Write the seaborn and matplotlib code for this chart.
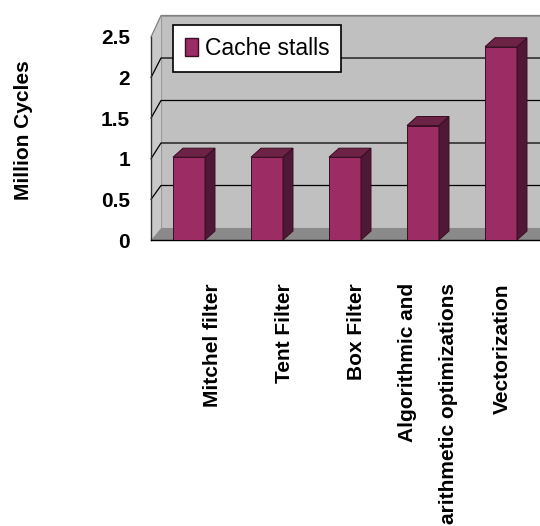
import numpy as np
import matplotlib
matplotlib.use("Agg")
import matplotlib.pyplot as plt
from matplotlib.patches import Polygon, Patch
from matplotlib.lines import Line2D
from matplotlib.transforms import IdentityTransform, ScaledTranslation
import seaborn as sns

# ---- data ----
categories = ["Mitchel filter", "Tent Filter", "Box Filter",
              "Algorithmic and\narithmetic optimizations", "Vectorization"]
cache_stalls = [1.02, 1.02, 1.02, 1.41, 2.38]
series_name = "Cache stalls"
y_ticks = [0, 0.5, 1, 1.5, 2, 2.5]
y_tick_labels = ["0", "0.5", "1", "1.5", "2", "2.5"]
y_title = "Million Cycles"

# ---- style ----
FRONT = "#9b2d64"
SIDE = "#4e1836"
TOP = "#6c2346"
EDGE = "#3a0d24"
WALL = "#c0c0c0"
SIDE_WALL = "#c9c9c9"
FLOOR = "#8a8a8a"

sns.set_style("white")
plt.rcParams["font.family"] = ["Liberation Sans", "DejaVu Sans"]
for key in ("text.color", "axes.labelcolor", "xtick.color", "ytick.color"):
    plt.rcParams[key] = "black"

W, H, DPI = 540, 526, 100
fig = plt.figure(figsize=(W / DPI, H / DPI), dpi=DPI)
fig.patch.set_facecolor("white")

px_per_unit = 81.2           # front-plane scale
ymax = 2.7
xlo, xhi = -0.487, 4.6
slot = 78                    # pixels per category
ax = fig.add_axes([151 / W, 286 / H, (xhi - xlo) * slot / W, ymax * px_per_unit / H])
ax.patch.set_visible(False)

sns.barplot(x=categories, y=cache_stalls, color=FRONT, saturation=1,
            width=0.41, edgecolor=EDGE, linewidth=0.7, ax=ax, zorder=3)
ax.set_xlim(xlo, xhi)
ax.set_ylim(0, ymax)

to_disp = ax.transData.transform
ident = IdentityTransform()

# ---- 3-D box: back wall, side wall, floor ----
WALL_DX, WALL_DY, WALL_K = 10, 12, 85 / 81.2
xf = to_disp((xlo, 0))[0]
yf0 = to_disp((0, 0))[1]
xb = xf + WALL_DX
x_end = W + 30


def front_y(v):
    return to_disp((0, v))[1]


def back_y(v):
    return yf0 + WALL_DY + (front_y(v) - yf0) * WALL_K


vmax = y_ticks[-1]
wall = Polygon([(xb, back_y(0)), (x_end, back_y(0)), (x_end, back_y(vmax)), (xb, back_y(vmax))],
               closed=True, transform=ident, fc=WALL, ec="#9a9a9a", lw=0.8,
               zorder=0.1, clip_on=False)
side_wall = Polygon([(xf, yf0), (xb, back_y(0)), (xb, back_y(vmax)), (xf, front_y(vmax))],
                    closed=True, transform=ident, fc=SIDE_WALL, ec="none",
                    zorder=0.15, clip_on=False)
floor = Polygon([(xf, yf0), (x_end, yf0), (x_end, back_y(0)), (xb, back_y(0))],
                closed=True, transform=ident, fc=FLOOR, ec="none",
                zorder=0.2, clip_on=False)
for p in (wall, side_wall, floor):
    ax.add_patch(p)

for v in y_ticks[1:]:
    col = "#808080" if v == vmax else "black"
    ax.add_line(Line2D([xf, xb, x_end], [front_y(v), back_y(v), back_y(v)],
                       transform=ident, color=col, lw=0.9, zorder=0.5, clip_on=False))

# ---- bar depth faces ----
DX, DY = 10, 9
for bar in list(ax.patches):
    if bar in (wall, side_wall, floor):
        continue
    x0, w, h = bar.get_x(), bar.get_width(), bar.get_height()
    (l, b), (r, t) = to_disp([(x0, 0), (x0 + w, h)])
    top_face = [(l, t), (r, t), (r + DX, t + DY), (l + DX, t + DY)]
    side_face = [(r, b), (r, t), (r + DX, t + DY), (r + DX, b + DY)]
    for pts, fc in ((side_face, SIDE), (top_face, TOP)):
        ax.add_patch(Polygon(pts, closed=True, transform=ident, fc=fc, ec=EDGE,
                             lw=0.7, zorder=3, clip_on=False))

# ---- axes, ticks, labels ----
for s in ("top", "right"):
    ax.spines[s].set_visible(False)
ax.spines["left"].set_bounds(0, vmax)
ax.spines["left"].set_color("#303030")
ax.spines["left"].set_linewidth(1.0)
ax.spines["bottom"].set_color("black")
ax.spines["bottom"].set_linewidth(1.0)
for s in ("left", "bottom"):
    ax.spines[s].set_zorder(2.5)

ax.set_yticks(y_ticks, y_tick_labels)
ax.tick_params(axis="y", length=0, pad=15, labelsize=15, labelcolor="black")
for lab in ax.get_yticklabels():
    lab.set_fontweight("bold")

ax.set_xticks(range(len(categories)), categories)
ax.tick_params(axis="x", which="major", length=0, pad=31, labelsize=15,
               labelrotation=90, labelcolor="black")
ax.set_xticks(np.arange(len(categories)) + 0.5, minor=True)
ax.tick_params(axis="x", which="minor", direction="in", length=4, width=1, color="black")

label_shift_px = [24, 18, 12, 5, 1]
for tick, dx in zip(ax.xaxis.get_major_ticks(), label_shift_px):
    lab = tick.label1
    lab.set_fontweight("bold")
    lab.set_multialignment("right")
    lab.set_linespacing(2.45)
    lab.set_transform(lab.get_transform() + ScaledTranslation(dx / DPI, 0, fig.dpi_scale_trans))

ax.set_xlabel("")
ax.set_ylabel(y_title, fontsize=15, fontweight="bold", color="black")
ax.yaxis.set_label_coords(-0.297, 0.502)

# ---- legend ----
handle = Patch(facecolor=FRONT, edgecolor=EDGE, linewidth=1)
leg = ax.legend([handle], [series_name], loc="upper left",
                bbox_to_anchor=(173 / W, 1 - 25 / H), bbox_transform=fig.transFigure,
                borderaxespad=0, frameon=True, fancybox=False, framealpha=1,
                edgecolor="black",
                prop={"family": "Liberation Sans", "size": 16.5},
                handlelength=0.57, handleheight=0.85, handletextpad=0.3, borderpad=0.52)
leg.get_frame().set_linewidth(1.2)
leg.set_zorder(10)
for txt in leg.get_texts():
    txt.set_color("black")

fig.savefig("out.png", dpi=DPI)
